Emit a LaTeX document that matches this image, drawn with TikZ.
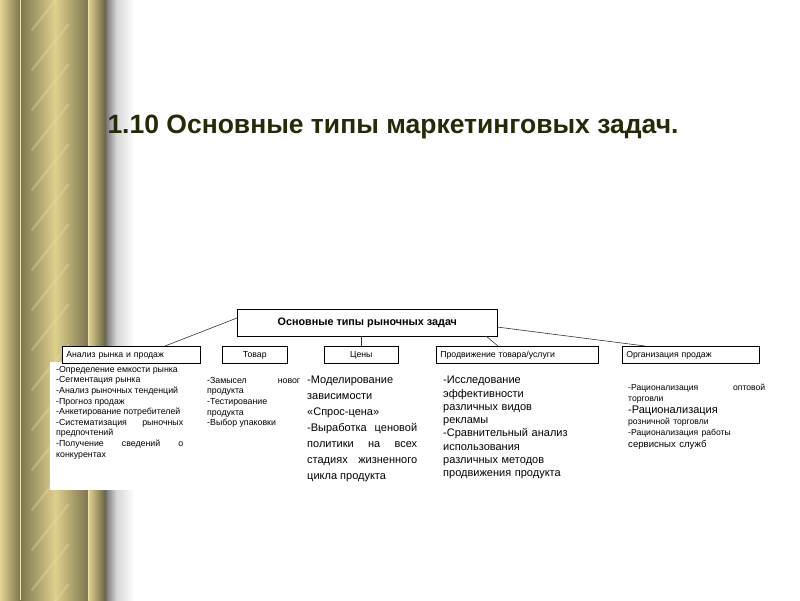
\documentclass[tikz,border=0pt]{standalone}
\usepackage{fontspec}
\setmainfont{Liberation Sans}
\definecolor{g1}{RGB}{226,212,146}
\definecolor{g2}{RGB}{125,117,80}
\definecolor{g3}{RGB}{222,208,140}
\definecolor{g4}{RGB}{100,95,62}
\definecolor{g5}{RGB}{236,226,170}
\definecolor{ttl}{RGB}{40,40,10}
\begin{document}
\begin{tikzpicture}[x=1pt,y=-1pt,
 bx/.style={draw,line width=0.6pt,fill=white,inner sep=0pt,anchor=north west},
 ln/.style={line width=0.6pt,draw=black!80},
 sm/.style={anchor=north west,inner sep=0pt,font=\fontsize{8.8}{10.6}\selectfont,align=justify},
 md/.style={anchor=north west,inner sep=0pt,font=\fontsize{11}{13.3}\selectfont,align=left}]
\useasboundingbox (0,0) rectangle (800,600);
\fill[white] (0,0) rectangle (800,600);
% column
\shade[left color=black!60, right color=white!80!gray] (104,0) rectangle (118,600);
\shade[left color=white!70!gray, right color=white] (118,0) rectangle (134,600);
\shade[left color=g1, right color=g2] (0,0) rectangle (20,600);
\shade[left color=g2, right color=g3] (20,0) rectangle (55,600);
\shade[left color=g3, right color=g2] (55,0) rectangle (88,600);
\shade[left color=g1, right color=g4] (88,0) rectangle (106,600);
\draw[g5,line width=0.5pt] (20,0)--(20,600) (88,0)--(88,600);
\begin{scope}
\clip (22,0) rectangle (87,600);
\foreach \yy in {-40,0,...,640}
 \draw[g5,opacity=0.3,line width=2.5pt,line cap=round] (32,\yy+30)--(68,\yy-15);
\end{scope}
% title
\node[font=\bfseries\fontsize{26.5}{30}\selectfont,text=ttl,inner sep=0pt] (t) at (393,127) {1.10 Основные типы маркетинговых задач.};
% top box
\node[bx,minimum width=260pt,minimum height=27pt,font=\bfseries\fontsize{10.8}{12}\selectfont] (top) at (237,309) {Основные типы рыночных задач};
% white back
\fill[white] (50,362) rectangle (187,490);
% second row
\tikzset{sb/.style={bx,minimum height=17pt,font=\fontsize{8.7}{10}\selectfont,text depth=0pt}}
\node[sb,minimum width=138pt,align=left,text width=130pt] (a) at (62,346) {Анализ рынка и продаж};
\node[sb,minimum width=65pt] (b) at (222,346) {Товар};
\node[sb,minimum width=74pt] (c) at (324,346) {Цены};
\node[sb,minimum width=162pt,text width=154pt,align=left] (d) at (436,346) {Продвижение товара/услуги};
\node[sb,minimum width=137pt,text width=129pt,align=left] (e) at (622,346) {Организация продаж};
\coordinate (tl) at (237,318); \coordinate (al) at (165,346);
\draw[ln] (tl) -- (al);
\coordinate (tb1) at (361,336); \coordinate (cn) at (361,346);
\draw[ln] (tb1) -- (cn);
\coordinate (tb2) at (486,336); \coordinate (dn) at (498,346);
\draw[ln] (tb2) -- (dn);
\coordinate (tr) at (497,327); \coordinate (er) at (645,346);
\draw[ln] (tr) -- (er);
% texts
\node[sm,text width=127pt] (ta) at (56,366) {-Определение емкости рынка\\-Сегментация рынка\\-Анализ рыночных тенденций\\-Прогноз продаж\\-Анкетирование потребителей\\-Систематизация рыночных предпочтений\\-Получение сведений о конкурентах};
\node[sm,text width=93pt] (tb) at (207,377) {-Замысел новог продукта\\-Тестирование продукта\\-Выбор упаковки};
\node[md,text width=110pt,align=justify,font=\fontsize{11}{16}\selectfont] (tc) at (307,376) {-Моделирование\\зависимости\\«Спрос-цена»\\-Выработка ценовой политики на всех стадиях жизненного цикла продукта};
\node[md,text width=128pt] (td) at (443,376) {-Исследование\\эффективности\\различных видов\\рекламы\\-Сравнительный анализ\\использования\\различных методов\\продвижения продукта};
\node[anchor=north west,inner sep=0pt,text width=137pt,align=left] (te) at (628,384) {\fontsize{8.6}{10.6}\selectfont -Рационализация\hfill оптовой\\торговли\\\fontsize{11}{12.5}\selectfont -Рационализация\\\fontsize{8.6}{11}\selectfont розничной торговли\\-Рационализация работы\\\fontsize{9.6}{14}\selectfont сервисных служб};
\end{tikzpicture}
\end{document}
